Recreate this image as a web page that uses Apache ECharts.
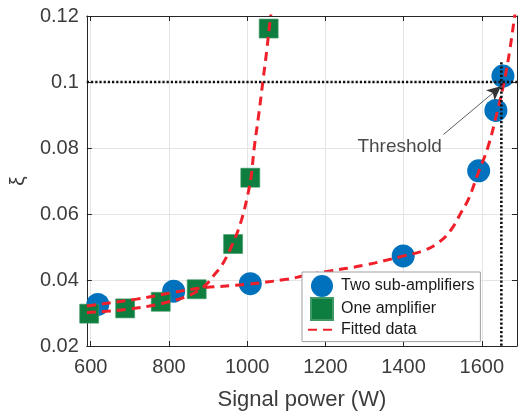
<!DOCTYPE html>
<html><head><meta charset="utf-8">
<script src="https://cdn.jsdelivr.net/npm/echarts@6/dist/echarts.min.js"></script>
<style>html,body{margin:0;padding:0;background:#fff}#c{width:518px;height:416px}</style>
</head><body><div id="c"></div>
<script>
// Two sub-amplifiers (blue circles)
const twoX = [618, 812, 1008, 1399, 1592, 1636, 1654];
const twoY = [0.0326, 0.0366, 0.0389, 0.0473, 0.0731, 0.0914, 0.1018];
// One amplifier (green squares)
const oneX = [596, 688, 779, 871, 964, 1008, 1055];
const oneY = [0.0298, 0.0314, 0.0334, 0.0372, 0.0509, 0.0710, 0.1162];
// Fitted curves
const fitOneX = [590, 600, 650, 700, 750, 800, 840, 877, 900, 918, 935, 963, 985, 1000, 1010, 1018, 1030, 1040, 1050, 1058, 1062];
const fitOneY = [0.0301, 0.0302, 0.0306, 0.0312, 0.0321, 0.0334, 0.0348, 0.0369, 0.0392, 0.0419, 0.0444, 0.0510, 0.0580, 0.0650, 0.0713, 0.0800, 0.0905, 0.1000, 0.1095, 0.1180, 0.1220];
const fitTwoX = [590, 600, 717, 810, 877, 1000, 1100, 1143, 1200, 1300, 1400, 1453, 1491, 1520, 1545, 1567, 1590, 1615, 1640, 1657, 1672, 1684, 1690];
const fitTwoY = [0.0321, 0.0323, 0.0342, 0.0362, 0.0375, 0.0387, 0.0402, 0.0412, 0.0425, 0.0445, 0.0473, 0.0490, 0.0515, 0.0550, 0.0600, 0.0648, 0.0722, 0.0800, 0.0912, 0.1000, 0.1100, 0.1200, 0.1250];
// Threshold
const thresholdY = 0.1;
const thresholdX = 1650;
const thresholdTopY = 0.106;
const annotText = 'Threshold';
const annotPos = [1390, 0.0805];
const arrowFrom = [1502, 0.0841];
const arrowTo = [1649, 0.0987];
// Axes
const xMin = 590, xMax = 1690;
const yMin = 0.02, yMax = 0.12, yStep = 0.02;
const xTicks = [600, 800, 1000, 1200, 1400, 1600];

const zip = (a, b) => a.map((v, i) => [v, b[i]]);
const FONT = "'Liberation Sans', Arial, Helvetica, sans-serif";
const axisCol = '#262626';
const labelCol = '#3c3c3c';
const gridCol = '#e4e4e4';
const red = '#f0202a';

const chart = echarts.init(document.getElementById('c'), null, {renderer: 'canvas'});
const xBase = {
  type: 'value', min: xMin, max: xMax,
  axisLine: {show: true, lineStyle: {color: axisCol, width: 1}},
  axisTick: {show: true, inside: true, length: 5, customValues: xTicks, lineStyle: {color: axisCol}},
};
const yBase = {
  type: 'value', min: yMin, max: yMax, interval: yStep,
  axisLine: {show: true, lineStyle: {color: axisCol, width: 1}},
  axisTick: {show: true, inside: true, length: 5, lineStyle: {color: axisCol}},
};
chart.setOption({
  animation: false,
  backgroundColor: '#fff',
  grid: {left: 84, top: 16, width: 433, height: 332, containLabel: false},
  xAxis: [
    Object.assign({}, xBase, {
      position: 'bottom',
      axisLabel: {show: true, customValues: xTicks, formatter: v => String(v), color: labelCol, fontSize: 20, fontFamily: FONT, margin: 11},
      splitLine: {show: true, lineStyle: {color: gridCol, width: 1}},
      name: 'Signal power (W)', nameLocation: 'middle', nameGap: 43,
      nameTextStyle: {color: labelCol, fontSize: 22, fontFamily: FONT}
    }),
    Object.assign({}, xBase, {
      position: 'top', axisLabel: {show: false}, splitLine: {show: false}
    })
  ],
  yAxis: [
    Object.assign({}, yBase, {
      position: 'left',
      axisLabel: {show: true, color: labelCol, fontSize: 20, fontFamily: FONT, margin: 8},
      splitLine: {show: true, lineStyle: {color: gridCol, width: 1}},
      name: 'ξ', nameLocation: 'middle', nameRotate: 90, nameGap: 51,
      nameTextStyle: {color: labelCol, fontSize: 21, fontFamily: FONT}
    }),
    Object.assign({}, yBase, {
      position: 'right', axisLabel: {show: false}, splitLine: {show: false}
    })
  ],
  legend: {
    data: [
      {name: 'Two sub-amplifiers', icon: 'circle'},
      {name: 'One amplifier', icon: 'path://M0,0L10,0L10,10L0,10Z'},
      {name: 'Fitted data', itemStyle: {color: 'rgba(0,0,0,0)', borderWidth: 0, opacity: 0}}
    ],
    orient: 'vertical', left: 302, top: 272,
    itemWidth: 28, itemHeight: 22, itemGap: 0, symbolKeepAspect: true,
    padding: [3, 6, 3, 5],
    backgroundColor: '#fff', borderColor: '#a0a0a0', borderWidth: 1, borderRadius: 0,
    textStyle: {color: '#1a1a1a', fontSize: 16, fontFamily: FONT},
    z: 20
  },
  series: [
    {
      name: 'Two sub-amplifiers', type: 'scatter', data: zip(twoX, twoY),
      symbol: 'circle', symbolSize: 23,
      itemStyle: {color: '#0072BD', opacity: 1}, z: 3
    },
    {
      name: 'One amplifier', type: 'scatter', data: zip(oneX, oneY),
      symbol: 'rect', symbolSize: 19,
      itemStyle: {color: '#0e7e40', borderColor: '#3f9a66', borderWidth: 0.6, opacity: 1}, z: 3
    },
    {
      name: 'Fitted data', type: 'line', data: zip(fitOneX, fitOneY),
      symbol: 'none', smooth: 0.4, clip: true,
      lineStyle: {color: red, width: 3, type: [9, 6]}, itemStyle: {color: red}, z: 5
    },
    {
      name: 'Fitted data', type: 'line', data: zip(fitTwoX, fitTwoY),
      symbol: 'none', smooth: 0.4, clip: true,
      lineStyle: {color: red, width: 3, type: [9, 6]}, itemStyle: {color: red}, z: 5
    },
    {
      name: 'thrH', type: 'line', data: [[xMin, thresholdY], [xMax, thresholdY]],
      symbol: 'none', silent: true,
      lineStyle: {color: '#111', width: 2.6, type: [2.2, 2]}, z: 6
    },
    {
      name: 'thrV', type: 'line', data: [[thresholdX, thresholdTopY], [thresholdX, yMin]],
      symbol: 'none', silent: true,
      lineStyle: {color: '#111', width: 2.6, type: [2.2, 2]}, z: 6
    },
    {
      name: 'annot', type: 'scatter', data: [annotPos], symbolSize: 0, silent: true,
      label: {show: true, position: 'inside', formatter: annotText, color: '#1a1a1a', fontSize: 19, fontFamily: FONT},
      markLine: {
        silent: true, symbol: ['none', 'arrow'], symbolSize: [10, 14],
        label: {show: false},
        lineStyle: {color: '#333', width: 0.8, type: 'solid'},
        data: [[{coord: arrowFrom}, {coord: arrowTo}]]
      },
      z: 7
    }
  ]
});
</script></body></html>
